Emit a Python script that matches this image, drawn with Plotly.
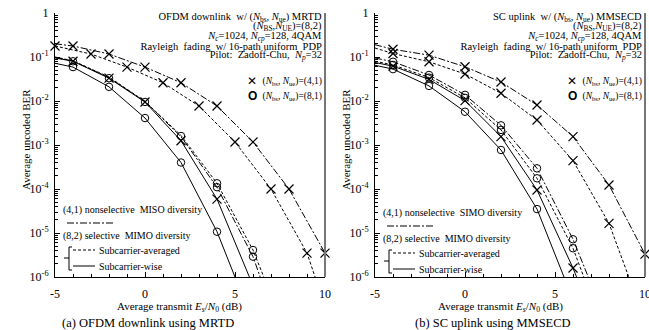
import plotly.graph_objects as go

W, H = 649, 330
SERIF = "Liberation Serif, Times New Roman, serif"

# ---------------- data: (a) OFDM downlink using MRTD ----------------
a_dd_up_x = [-5, -4, -2, 0, 2, 4, 6, 8, 10]
a_dd_up_y = [0.2, 0.178, 0.117, 0.059, 0.026, 7.7e-3, 1.17e-3, 1.0e-4, 3.5e-6]
a_d_up_x = [-5, -3, -1, 1, 3, 5, 7, 9, 9.45]
a_d_up_y = [0.178, 0.117, 0.059, 0.026, 7.7e-3, 1.17e-3, 1.0e-4, 3.5e-6, 1e-6]
a_sw1_x = [-5, -4, -2, 0, 2, 4, 5.0]
a_sw1_y = [0.072, 0.059, 0.021, 4.1e-3, 4.0e-4, 1.07e-5, 1e-6]
a_sw2_x = [-5, -4, -2, 0, 2, 4, 5.8]
a_sw2_y = [0.095, 0.08, 0.033, 9.5e-3, 1.25e-3, 5.9e-5, 1e-6]
a_dd2_x = [-5, -4, -2, 0, 2, 4, 6, 6.4]
a_dd2_y = [0.098, 0.081, 0.034, 9.7e-3, 1.55e-3, 1.1e-4, 2.9e-6, 1e-6]
a_d2_x = [-5, -4, -2, 0, 2, 4, 6, 6.6]
a_d2_y = [0.1, 0.082, 0.035, 9.8e-3, 1.65e-3, 1.35e-4, 4.1e-6, 1e-6]
a_xmk_x = [-5, -4, -3, -2, -1, 0, 1, 2, 3, 4, 5, 6, 7, 8, 9, 10,
           -4, -2, 0, 2, 4]
a_xmk_y = [0.178, 0.178, 0.117, 0.117, 0.059, 0.059, 0.026, 0.026, 7.7e-3, 7.7e-3,
           1.17e-3, 1.17e-3, 1.0e-4, 1.0e-4, 3.5e-6, 3.5e-6,
           0.08, 0.033, 9.5e-3, 1.25e-3, 5.9e-5]
a_omk_x = [-4, -2, 0, 2, 4, -4, -2, 0, 2, 4, 4, 6, 6]
a_omk_y = [0.059, 0.021, 4.1e-3, 4.0e-4, 1.07e-5,
           0.08, 0.033, 9.5e-3, 1.6e-3, 1.35e-4, 1.1e-4, 4.1e-6, 2.9e-6]

# ---------------- data: (b) SC uplink using MMSECD ----------------
b_dd_up_x = [-5, -4, -2, 0, 2, 4, 6, 8, 10]
b_dd_up_y = [0.19, 0.15, 0.11, 0.06, 0.027, 8.1e-3, 1.55e-3, 1.23e-4, 3.3e-6]
b_d_up_x = [-5, -4, -2, 0, 2, 4, 6, 8, 9.1]
b_d_up_y = [0.16, 0.12, 0.078, 0.041, 0.015, 3.7e-3, 4.4e-4, 1.66e-5, 1e-6]
b_sw1_x = [-5, -4, -2, 0, 2, 4, 5.5]
b_sw1_y = [0.065, 0.053, 0.022, 5.7e-3, 7.7e-4, 3.5e-5, 1e-6]
b_sw2_x = [-5, -4, -2, 0, 2, 4, 6, 6.2]
b_sw2_y = [0.075, 0.062, 0.031, 0.0102, 1.55e-3, 9.5e-5, 1.6e-6, 1e-6]
b_d2_x = [-5, -4, -2, 0, 2, 4, 6, 6.6]
b_d2_y = [0.08, 0.066, 0.034, 0.0118, 2.2e-3, 1.75e-4, 4.5e-6, 1e-6]
b_dd2_x = [-5, -4, -2, 0, 2, 4, 6, 6.85]
b_dd2_y = [0.095, 0.078, 0.039, 0.0138, 2.8e-3, 2.95e-4, 7.2e-6, 1e-6]
b_xmk_x = [-4, -2, 0, 2, 4, 6, 8, 10, -4, -2, 0, 2, 4, 6, 8,
           -4, -2, 0, 2, 4, 6]
b_xmk_y = [0.15, 0.11, 0.06, 0.027, 8.1e-3, 1.55e-3, 1.23e-4, 3.3e-6,
           0.12, 0.078, 0.041, 0.015, 3.7e-3, 4.4e-4, 1.66e-5,
           0.062, 0.031, 0.0102, 1.55e-3, 9.5e-5, 1.6e-6]
b_omk_x = [-4, -2, 0, 2, 4, -4, -2, 0, 2, 4, 6, -4, -2, 0, 2, 4, 6]
b_omk_y = [0.053, 0.022, 5.7e-3, 7.7e-4, 3.5e-5,
           0.066, 0.034, 0.0118, 2.2e-3, 1.75e-4, 4.5e-6,
           0.078, 0.039, 0.0138, 2.8e-3, 2.95e-4, 7.2e-6]

x_ticks = [-5, 0, 5, 10]
x_ticktext = ["-5", "0", "5", "10"]
y_ticks = [1e-6, 1e-5, 1e-4, 1e-3, 1e-2, 1e-1, 1]
y_ticktext = ["10<sup>-6</sup>", "10<sup>-5</sup>", "10<sup>-4</sup>", "10<sup>-3</sup>",
              "10<sup>-2</sup>", "10<sup>-1</sup>", "1"]
y_minor = [k * 10.0 ** e for e in range(-6, 0) for k in range(2, 10)]
x_minor = list(range(-5, 11))

DASH = "3px,2px"
DASHDOT = "7px,2px,2px,2px"

fig = go.Figure()


def line(x, y, dash, ax):
    fig.add_trace(go.Scatter(x=x, y=y, mode="lines", xaxis="x" + ax, yaxis="y" + ax,
                             line=dict(color="black", width=1, dash=dash),
                             showlegend=False, hoverinfo="skip"))


def marks(x, y, sym, size, width, ax):
    fig.add_trace(go.Scatter(x=x, y=y, mode="markers", xaxis="x" + ax, yaxis="y" + ax,
                             marker=dict(symbol=sym, size=size, color="black",
                                         line=dict(color="black", width=width)),
                             cliponaxis=False, showlegend=False, hoverinfo="skip"))


for ax, dd_up, d_up, sw1, sw2, dd2, d2, xm, om in [
    ("", (a_dd_up_x, a_dd_up_y), (a_d_up_x, a_d_up_y), (a_sw1_x, a_sw1_y),
     (a_sw2_x, a_sw2_y), (a_dd2_x, a_dd2_y), (a_d2_x, a_d2_y),
     (a_xmk_x, a_xmk_y), (a_omk_x, a_omk_y)),
    ("2", (b_dd_up_x, b_dd_up_y), (b_d_up_x, b_d_up_y), (b_sw1_x, b_sw1_y),
     (b_sw2_x, b_sw2_y), (b_dd2_x, b_dd2_y), (b_d2_x, b_d2_y),
     (b_xmk_x, b_xmk_y), (b_omk_x, b_omk_y)),
]:
    line(*dd_up, DASHDOT, ax)
    line(*d_up, DASH, ax)
    line(*sw1, "solid", ax)
    line(*sw2, "solid", ax)
    line(*dd2, DASHDOT, ax)
    line(*d2, DASH, ax)
    marks(*xm, "x-thin", 9, 1.2, ax)
    marks(*om, "circle-open", 7.5, 1, ax)


def xax(x0, x1, anchor):
    return dict(domain=[x0 / W, x1 / W], range=[-5, 10], anchor=anchor, automargin=False,
                tickmode="array", tickvals=x_ticks, ticktext=x_ticktext,
                ticks="inside", ticklen=5, tickcolor="black",
                minor=dict(tickmode="array", tickvals=x_minor, ticks="inside",
                           ticklen=3, tickcolor="black"),
                showline=True, linecolor="black", linewidth=1, showgrid=False,
                zeroline=False, ticklabelstandoff=6, ticklabeloverflow="allow",
                tickfont=dict(family=SERIF, size=12, color="black"))


def yax(anchor):
    return dict(domain=[1 - 277 / H, 1 - 13 / H], type="log", range=[-6, 0], anchor=anchor,
                automargin=False,
                tickmode="array", tickvals=y_ticks, ticktext=y_ticktext,
                ticks="inside", ticklen=5, tickcolor="black",
                minor=dict(tickmode="array", tickvals=y_minor, ticks="inside",
                           ticklen=3, tickcolor="black"),
                showline=True, linecolor="black", linewidth=1, showgrid=False,
                zeroline=False, ticklabelstandoff=3,
                tickfont=dict(family=SERIF, size=12, color="black"))


ann = []
shapes = []


def txt(x, y, s, size=10.5, xanchor="left", angle=0, family=SERIF):
    a = dict(x=x / W, y=1 - y / H, xref="paper", yref="paper", text=s,
             showarrow=False, xanchor=xanchor, yanchor="middle", textangle=angle,
             borderpad=0, font=dict(family=family, size=size, color="black"))
    if xanchor in ("left", "right") and angle == 0:
        a["width"] = 240
        a["align"] = xanchor
    ann.append(a)


def seg(x0, y0, x1, y1, dash="solid", color="black", width=1):
    shapes.append(dict(type="line", xref="paper", yref="paper",
                       x0=x0 / W, y0=1 - y0 / H, x1=x1 / W, y1=1 - y1 / H,
                       line=dict(color=color, width=width, dash=dash)))


Nbs = "(<i>N</i><sub>bs</sub>, <i>N</i><sub>ue</sub>)"
NB = "\u00a0"
for off, head, divers, ydy, cap, capx, ax_right in [
    (0, "OFDM downlink" + NB * 2 + "w/ " + Nbs + " MRTD", "MISO", 0,
     "(a) OFDM downlink using MRTD", 148, 325),
    (320, "SC uplink" + NB * 2 + "w/ " + Nbs + " MMSECD", "SIMO", 3,
     "(b) SC uplink using MMSECD", 493, 645),
]:
    r = ax_right - 2
    txt(r, 17, head, xanchor="right")
    txt(r, 27, "(<i>N</i><sub>BS</sub>,<i>N</i><sub>UE</sub>)=(8,2)", xanchor="right")
    txt(r, 36, "<i>N</i><sub><i>c</i></sub>=1024, <i>N</i><sub><i>cp</i></sub>=128, 4QAM",
        xanchor="right")
    txt(r, 46, "Rayleigh" + NB + " fading" + NB + " w/ 16-path uniform" + NB + " PDP",
        xanchor="right")
    txt(r, 56, "Pilot:" + NB + " Zadoff-Chu," + NB + " <i>N</i><sub><i>p</i></sub>=32",
        xanchor="right")
    txt(r, 81, Nbs + "=(4,1)", size=9.5, xanchor="right")
    txt(r, 96, Nbs + "=(8,1)", size=9.5, xanchor="right")
    txt(r - 71, 81, "<b>\u2715</b>", size=12, xanchor="center", family="DejaVu Sans")
    txt(r - 71, 96, "<b>O</b>", size=12, xanchor="center", family="Liberation Sans")

    # lower-left legend
    L = 62 + off
    txt(L, 210 + ydy, "(4,1) nonselective" + NB + " " + divers + " diversity", size=10)
    seg(L + 5, 223 + ydy, L + 51, 223 + ydy, dash=DASHDOT)
    txt(L, 236 + ydy, "(8,2) selective" + NB + " MIMO diversity", size=10)
    bx = L + 7
    seg(bx + 3, 247 + ydy, bx, 247 + ydy)
    seg(bx, 247 + ydy, bx, 270 + ydy)
    seg(bx, 270 + ydy, bx + 3, 270 + ydy)
    seg(bx - 5, 258 + ydy, bx, 258 + ydy)
    seg(bx + 4, 250 + ydy, bx + 26, 250 + ydy, dash=DASH)
    txt(bx + 29, 250 + ydy, "Subcarrier-averaged", size=10)
    seg(bx + 4, 266 + ydy, bx + 26, 266 + ydy)
    txt(bx + 29, 266 + ydy, "Subcarrier-wise", size=10)

    # right border
    seg(ax_right, 13, ax_right, 277, color="#777777", width=2)

    # axis titles and captions
    txt(off + 26, 140, "Average uncoded BER", size=11, xanchor="center", angle=-90)
    txt(off + 180, 307, "Average transmit <i>E</i><sub><i>s</i></sub>/<i>N</i><sub>0</sub> (dB)",
        size=11, xanchor="center")
    txt(capx, 323, cap, size=12.5, xanchor="center")

fig.update_layout(
    width=W, height=H, margin=dict(l=0, r=0, t=0, b=0, pad=0, autoexpand=False),
    paper_bgcolor="white", plot_bgcolor="white",
    font=dict(family=SERIF, color="black"),
    xaxis=xax(55, 325, "y"), yaxis=yax("x"),
    xaxis2=xax(375, 645, "y2"), yaxis2=yax("x2"),
    annotations=ann, shapes=shapes, showlegend=False,
)

fig.write_html("out.html", config={"displayModeBar": False, "staticPlot": True},
               post_script="document.body.style.margin='0px';"
                           "document.body.style.padding='0px';"
                           "document.body.style.overflow='hidden';")
